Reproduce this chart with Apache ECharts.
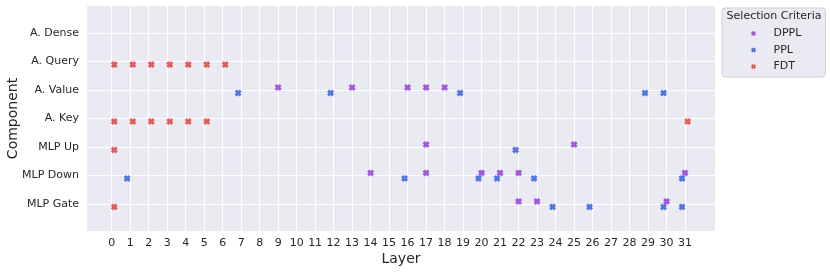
<!DOCTYPE html>
<html>
<head>
<meta charset="utf-8">
<script src="https://cdn.jsdelivr.net/npm/echarts@6/dist/echarts.min.js"></script>
<style>html,body{margin:0;padding:0;background:#fff}#c{width:830px;height:272px}</style>
</head>
<body>
<div id="c"></div>
<script>
const categories = ['A. Dense', 'A. Query', 'A. Value', 'A. Key', 'MLP Up', 'MLP Down', 'MLP Gate'];
const layerTicks = [0,1,2,3,4,5,6,7,8,9,10,11,12,13,14,15,16,17,18,19,20,21,22,23,24,25,26,27,28,29,30,31];
const seriesNames = ['DPPL', 'PPL', 'FDT'];

const dpplPoints = [
  [9,'A. Value'],[13,'A. Value'],[16,'A. Value'],[17,'A. Value'],[18,'A. Value'],
  [17,'MLP Up'],[25,'MLP Up'],
  [14,'MLP Down'],[17,'MLP Down'],[20,'MLP Down'],[21,'MLP Down'],[22,'MLP Down'],[31,'MLP Down'],
  [22,'MLP Gate'],[23,'MLP Gate'],[30,'MLP Gate']
];
const pplPoints = [
  [7,'A. Value'],[12,'A. Value'],[19,'A. Value'],[29,'A. Value'],[30,'A. Value'],
  [22,'MLP Up'],
  [1,'MLP Down'],[16,'MLP Down'],[20,'MLP Down'],[21,'MLP Down'],[23,'MLP Down'],[31,'MLP Down'],
  [24,'MLP Gate'],[26,'MLP Gate'],[30,'MLP Gate'],[31,'MLP Gate']
];
const fdtPoints = [
  [0,'A. Query'],[1,'A. Query'],[2,'A. Query'],[3,'A. Query'],[4,'A. Query'],[5,'A. Query'],[6,'A. Query'],
  [0,'A. Key'],[1,'A. Key'],[2,'A. Key'],[3,'A. Key'],[4,'A. Key'],[5,'A. Key'],[31,'A. Key'],
  [0,'MLP Up'],
  [0,'MLP Gate']
];

const colors = { DPPL: '#9d4fdc', PPL: '#4c6ee0', FDT: '#df5450' };
const offsets = { DPPL: [0, -2.5], PPL: [-3, 3], FDT: [2.6, 3] };
const xPath = 'path://M0,3 L3,0 L5,2 L7,0 L10,3 L8,5 L10,7 L7,10 L5,8 L3,10 L0,7 L2,5 Z';
const font = 'DejaVu Sans';
const textColor = '#262626';

function toData(points) {
  return points.map(p => [p[0], categories.indexOf(p[1])]);
}
const pointSets = { DPPL: dpplPoints, PPL: pplPoints, FDT: fdtPoints };
const catIdx = categories.map((c, i) => i);

const chart = echarts.init(document.getElementById('c'), null, { renderer: 'canvas' });
chart.setOption({
  animation: false,
  backgroundColor: '#ffffff',
  grid: { left: 87, top: 6, right: 115, bottom: 41, show: true, backgroundColor: '#EAEAF2', borderWidth: 0,
    outerBoundsMode: 'none', containLabel: false },
  xAxis: {
    type: 'value', min: -1.334, max: 32.62,
    name: 'Layer', nameLocation: 'middle', nameGap: 21, nameMoveOverlap: false,
    nameTextStyle: { fontFamily: font, fontSize: 14, color: textColor },
    axisLine: { show: false },
    axisTick: { show: false, customValues: layerTicks },
    axisLabel: { customValues: layerTicks, fontFamily: font, fontSize: 11, color: textColor, margin: 7 },
    splitLine: { show: true, lineStyle: { color: '#ffffff', width: 1.2 } }
  },
  yAxis: {
    type: 'value', inverse: true, min: -0.95, max: 6.95,
    name: 'Component', nameLocation: 'middle', nameGap: 67, nameMoveOverlap: false,
    nameTextStyle: { fontFamily: font, fontSize: 14, color: textColor },
    axisLine: { show: false },
    axisTick: { show: false, customValues: catIdx },
    axisLabel: { customValues: catIdx, formatter: v => categories[Math.round(v)] || '',
      fontFamily: font, fontSize: 11, color: textColor, margin: 8 },
    splitLine: { show: true, lineStyle: { color: '#ffffff', width: 1.2 } }
  },
  legend: {
    orient: 'vertical', left: 722, top: 8,
    padding: [20, 24, 5, 29], itemGap: 5.5,
    itemWidth: 30, itemHeight: 5,
    backgroundColor: '#EAEAF2', borderColor: '#cfcfd6', borderWidth: 1, borderRadius: 3,
    textStyle: { fontFamily: font, fontSize: 11, color: textColor },
    data: seriesNames.map(n => ({ name: n, icon: xPath }))
  },
  graphic: [{
    type: 'text', x: 774, y: 16, z: 100, zlevel: 0,
    style: { text: 'Selection Criteria', fontFamily: font, fontSize: 11, fill: textColor,
      textAlign: 'center', textVerticalAlign: 'middle' }
  }],
  series: seriesNames.map(n => ({
    name: n, type: 'scatter',
    data: toData(pointSets[n]),
    symbol: xPath, symbolSize: 7, symbolOffset: offsets[n],
    itemStyle: { color: colors[n], opacity: 0.95 },
    z: 3
  }))
});
</script>
</body>
</html>
